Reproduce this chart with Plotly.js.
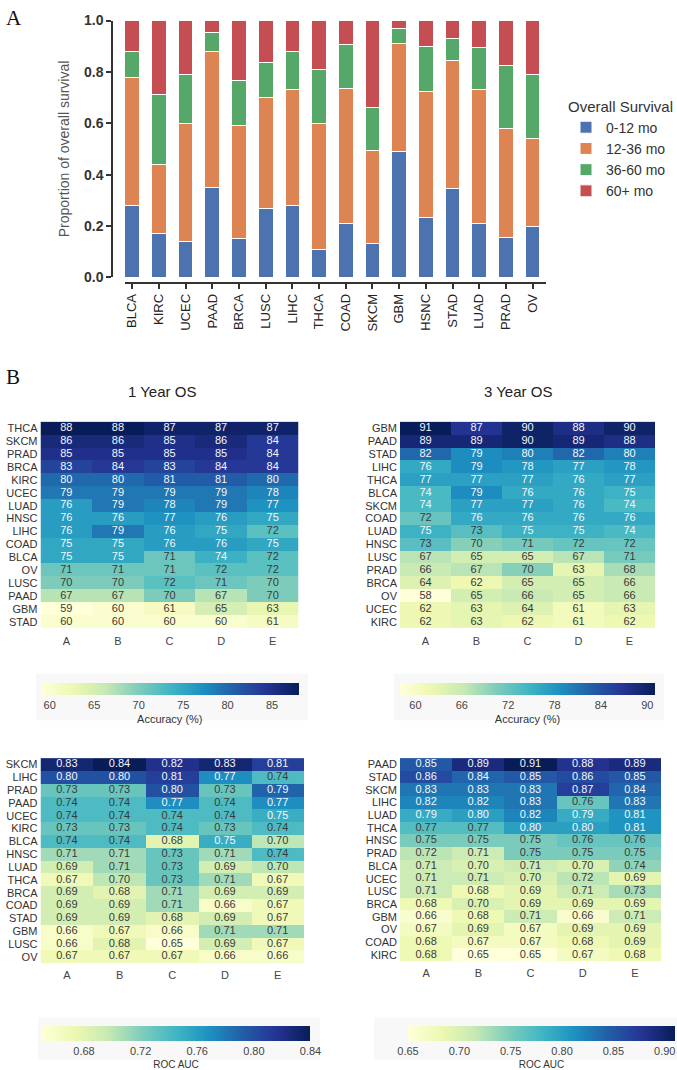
<!DOCTYPE html>
<html><head><meta charset="utf-8">
<script src="https://cdn.plot.ly/plotly-3.0.1.min.js"></script>
<style>html,body{margin:0;padding:0;background:#fff}#chart{width:677px;height:1070px}</style>
</head><body><div id="chart"></div>
<script>
// ---------- Panel A data ----------
const cancerTypes = ['BLCA','KIRC','UCEC','PAAD','BRCA','LUSC','LIHC','THCA','COAD','SKCM','GBM','HSNC','STAD','LUAD','PRAD','OV'];
const os0to12  = [0.28,0.17,0.14,0.35,0.15,0.27,0.28,0.11,0.21,0.13,0.49,0.235,0.345,0.21,0.155,0.20];
const os12to36 = [0.50,0.27,0.46,0.53,0.44,0.43,0.45,0.49,0.525,0.365,0.42,0.49,0.50,0.52,0.425,0.34];
const os36to60 = [0.10,0.27,0.19,0.075,0.175,0.135,0.15,0.21,0.17,0.165,0.06,0.175,0.085,0.165,0.245,0.25];
const os60plus = [0.12,0.29,0.21,0.045,0.235,0.165,0.12,0.19,0.095,0.34,0.03,0.10,0.07,0.105,0.175,0.21];
const survivalLabels = ['0-12 mo','12-36 mo','36-60 mo','60+ mo'];

// ---------- Panel B data ----------
const models = ['A','B','C','D','E'];

const rowsAcc1y = ['THCA','SKCM','PRAD','BRCA','KIRC','UCEC','LUAD','HNSC','LIHC','COAD','BLCA','OV','LUSC','PAAD','GBM','STAD'];
const acc1y = [
 [88,88,87,87,87],[86,86,85,86,84],[85,85,85,85,84],[83,84,83,84,84],
 [80,80,81,81,80],[79,79,79,79,78],[76,79,78,79,77],[76,76,77,76,75],
 [76,79,76,75,72],[75,75,76,76,75],[75,75,71,74,72],[71,71,71,72,72],
 [70,70,72,71,70],[67,67,70,67,70],[59,60,61,65,63],[60,60,60,60,61]];

const rowsAcc3y = ['GBM','PAAD','STAD','LIHC','THCA','BLCA','SKCM','COAD','LUAD','HNSC','LUSC','PRAD','BRCA','OV','UCEC','KIRC'];
const acc3y = [
 [91,87,90,88,90],[89,89,90,89,88],[82,79,80,82,80],[76,79,78,77,78],
 [77,77,77,76,77],[74,79,76,76,75],[74,77,77,76,74],[72,76,76,76,76],
 [75,73,75,75,74],[73,70,71,72,72],[67,65,65,67,71],[66,67,70,63,68],
 [64,62,65,65,66],[58,65,66,65,66],[62,63,64,61,63],[62,63,62,61,62]];

const rowsAuc1y = ['SKCM','LIHC','PRAD','PAAD','UCEC','KIRC','BLCA','HNSC','LUAD','THCA','BRCA','COAD','STAD','GBM','LUSC','OV'];
const auc1y = [
 [0.83,0.84,0.82,0.83,0.81],[0.80,0.80,0.81,0.77,0.74],[0.73,0.73,0.80,0.73,0.79],[0.74,0.74,0.77,0.74,0.77],
 [0.74,0.74,0.74,0.74,0.75],[0.73,0.73,0.74,0.73,0.74],[0.74,0.74,0.68,0.75,0.70],[0.71,0.71,0.73,0.71,0.74],
 [0.69,0.71,0.73,0.69,0.70],[0.67,0.70,0.73,0.71,0.67],[0.69,0.68,0.71,0.69,0.69],[0.69,0.69,0.71,0.66,0.67],
 [0.69,0.69,0.68,0.69,0.67],[0.66,0.67,0.66,0.71,0.71],[0.66,0.68,0.65,0.69,0.67],[0.67,0.67,0.67,0.66,0.66]];

const rowsAuc3y = ['PAAD','STAD','SKCM','LIHC','LUAD','THCA','HNSC','PRAD','BLCA','UCEC','LUSC','BRCA','GBM','OV','COAD','KIRC'];
const auc3y = [
 [0.85,0.89,0.91,0.88,0.89],[0.86,0.84,0.85,0.86,0.85],[0.83,0.83,0.83,0.87,0.84],[0.82,0.82,0.83,0.76,0.83],
 [0.79,0.80,0.82,0.79,0.81],[0.77,0.77,0.80,0.80,0.81],[0.75,0.75,0.75,0.76,0.76],[0.72,0.71,0.75,0.75,0.75],
 [0.71,0.70,0.71,0.70,0.74],[0.71,0.71,0.70,0.72,0.69],[0.71,0.68,0.69,0.71,0.73],[0.68,0.70,0.69,0.69,0.69],
 [0.66,0.68,0.71,0.66,0.71],[0.67,0.69,0.67,0.69,0.69],[0.68,0.67,0.67,0.68,0.69],[0.68,0.65,0.65,0.67,0.68]];

// ---------- helpers ----------
const W = 677, H = 1070;
const px = x => x / W;
const py = y => 1 - y / H;
const FONT = '"Liberation Sans", Arial, sans-serif';
const ylgnbu = [[0,'#ffffd9'],[0.125,'#edf8b1'],[0.25,'#c7e9b4'],[0.375,'#7fcdbb'],[0.5,'#41b6c4'],
                [0.625,'#1d91c0'],[0.75,'#225ea8'],[0.875,'#253494'],[1,'#081d58']];
const barColors = ['#4c72b0','#dd8452','#55a868','#c44e52'];

const traces = [];
[os0to12, os12to36, os36to60, os60plus].forEach((vals, i) => {
  traces.push({
    type: 'bar', x: cancerTypes, y: vals, name: survivalLabels[i],
    marker: {color: barColors[i], line: {color: '#ffffff', width: 1}},
    width: 0.55, xaxis: 'x', yaxis: 'y', hoverinfo: 'x+y+name'
  });
});

function addHeatmap(rows, z, ax, zmin, zmax, cb, fmt) {
  traces.push({
    type: 'heatmap', x: models, y: rows, z: z, xaxis: 'x' + ax, yaxis: 'y' + ax,
    colorscale: ylgnbu, zmin: zmin, zmax: zmax, showscale: true, colorbar: cb, hoverongaps: false, showlegend: false
  });
  const xs = [], ys = [], ts = [], cs = [];
  rows.forEach((r, i) => models.forEach((m, j) => {
    const v = z[i][j];
    xs.push(m); ys.push(r); ts.push(fmt(v));
    cs.push((v - zmin) / (zmax - zmin) > 0.478 ? '#f4f6fa' : '#3a3a3a');
  }));
  traces.push({
    type: 'scatter', mode: 'text', x: xs, y: ys, text: ts, xaxis: 'x' + ax, yaxis: 'y' + ax,
    textfont: {family: FONT, size: 11, color: cs}, hoverinfo: 'skip', showlegend: false
  });
}

function cbar(cx, left, right, top, thick, tick0, dtick, fmt, title, tsize) {
  return {
    orientation: 'h', x: px(cx), xanchor: 'center', y: py(top), yanchor: 'top',
    len: (right - left) / W, lenmode: 'fraction', thickness: thick, xpad: 0, ypad: 0,
    outlinewidth: 0, ticks: '', tickmode: 'linear', tick0: tick0, dtick: dtick, tickformat: fmt,
    tickfont: {family: FONT, size: 11, color: '#444'},
    title: {text: title, side: 'bottom', font: {family: FONT, size: tsize, color: '#333'}}
  };
}

addHeatmap(rowsAcc1y, acc1y, 2, 59, 88, cbar(169.8, 40.6, 299, 689, 12, 60, 5, 'd', 'Accuracy (%)', 11), v => String(v));
addHeatmap(rowsAcc3y, acc3y, 3, 58, 91, cbar(527.5, 400, 655, 689, 12, 60, 6, 'd', 'Accuracy (%)', 11), v => String(v));
addHeatmap(rowsAuc1y, auc1y, 4, 0.65, 0.84, cbar(176, 41.6, 310.5, 1036, 15, 0.68, 0.04, '.2f', 'ROC AUC', 10), v => v.toFixed(2));
addHeatmap(rowsAuc3y, auc3y, 5, 0.65, 0.91, cbar(541.5, 408, 675, 1036, 15, 0.65, 0.05, '.2f', 'ROC AUC', 10), v => v.toFixed(2));

function hmX(l, r, anchor) {
  return {domain: [px(l), px(r)], anchor: anchor, showgrid: false, zeroline: false, showline: false,
          ticks: '', tickfont: {family: FONT, size: 11, color: '#444'}, fixedrange: true};
}
function hmY(t, b, anchor, rows) {
  return {domain: [py(b), py(t)], anchor: anchor, autorange: 'reversed', showgrid: false, zeroline: false,
          showline: false, ticks: '', tickmode: 'array', tickvals: rows, ticktext: rows, ticklabelstandoff: 2,
          tickfont: {family: FONT, size: 11, color: '#333'}, fixedrange: true};
}

const layout = {
  width: W, height: H, margin: {l: 0, r: 0, t: 0, b: 0},
  paper_bgcolor: '#ffffff', plot_bgcolor: 'rgba(0,0,0,0)',
  font: {family: FONT, color: '#333'},
  barmode: 'stack', showlegend: true,
  legend: {x: px(566), y: py(93), xanchor: 'left', yanchor: 'top', traceorder: 'normal',
           title: {text: 'Overall Survival', font: {family: FONT, size: 15, color: '#333'}},
           font: {family: FONT, size: 14, color: '#333'}, tracegroupgap: 0, bgcolor: 'rgba(0,0,0,0)'},
  xaxis: {domain: [px(125), px(546)], anchor: 'free', position: py(285.7), type: 'category',
          range: [-0.27, 15.5], showline: true, linecolor: '#333', linewidth: 1.5,
          ticks: 'outside', ticklen: 5, tickwidth: 1.5, tickcolor: '#333', tickangle: -90,
          tickfont: {family: FONT, size: 13, color: '#222'}, showgrid: false, zeroline: false, fixedrange: true},
  yaxis: {domain: [py(280), py(20.7)], anchor: 'free', position: px(112), range: [0, 1],
          showline: true, linecolor: '#333', linewidth: 1.5, ticks: 'outside', ticklen: 5, tickwidth: 1.5,
          tickcolor: '#333', tickmode: 'linear', tick0: 0, dtick: 0.2, tickformat: '.1f',
          tickfont: {family: FONT, size: 14, color: '#333', weight: 'bold'}, showgrid: false, zeroline: false,
          title: {text: 'Proportion of overall survival', font: {family: FONT, size: 14, color: '#555'}, standoff: 10},
          fixedrange: true},
  xaxis2: hmX(40.5, 298.5, 'y2'), yaxis2: hmY(421.5, 638.5, 'x2', rowsAcc1y),
  xaxis3: hmX(400, 655, 'y3'),    yaxis3: hmY(421.5, 638.5, 'x3', rowsAcc3y),
  xaxis4: hmX(40.5, 304, 'y4'),   yaxis4: hmY(761, 976.5, 'x4', rowsAuc1y),
  xaxis5: hmX(400, 661, 'y5'),    yaxis5: hmY(761, 974.5, 'x5', rowsAuc3y),
  shapes: [
    {type: 'rect', xref: 'paper', yref: 'paper', x0: px(36), x1: px(308), y0: py(727), y1: py(680), fillcolor: '#f8f8f8', line: {width: 0}, layer: 'below'},
    {type: 'rect', xref: 'paper', yref: 'paper', x0: px(394), x1: px(664), y0: py(727), y1: py(680), fillcolor: '#f8f8f8', line: {width: 0}, layer: 'below'},
    {type: 'rect', xref: 'paper', yref: 'paper', x0: px(38), x1: px(320), y0: py(1070), y1: py(1027), fillcolor: '#f8f8f8', line: {width: 0}, layer: 'below'},
    {type: 'rect', xref: 'paper', yref: 'paper', x0: px(374), x1: px(677), y0: py(1070), y1: py(1027), fillcolor: '#f8f8f8', line: {width: 0}, layer: 'below'}
  ],
  annotations: [
    {text: 'A', xref: 'paper', yref: 'paper', x: px(4), y: py(18), xanchor: 'left', yanchor: 'middle', showarrow: false,
     font: {family: '"Liberation Serif", "DejaVu Serif", serif', size: 21, color: '#111'}},
    {text: 'B', xref: 'paper', yref: 'paper', x: px(4), y: py(381), xanchor: 'left', yanchor: 'middle', showarrow: false,
     font: {family: '"Liberation Serif", "DejaVu Serif", serif', size: 21, color: '#111'}},
    {text: '1 Year OS', xref: 'paper', yref: 'paper', x: px(162), y: py(395), xanchor: 'center', yanchor: 'middle', showarrow: false,
     font: {family: FONT, size: 15, color: '#222'}},
    {text: '3 Year OS', xref: 'paper', yref: 'paper', x: px(518), y: py(395), xanchor: 'center', yanchor: 'middle', showarrow: false,
     font: {family: FONT, size: 15, color: '#222'}}
  ]
};

Plotly.newPlot('chart', traces, layout, {displayModeBar: false, staticPlot: false});
</script>
</body></html>
